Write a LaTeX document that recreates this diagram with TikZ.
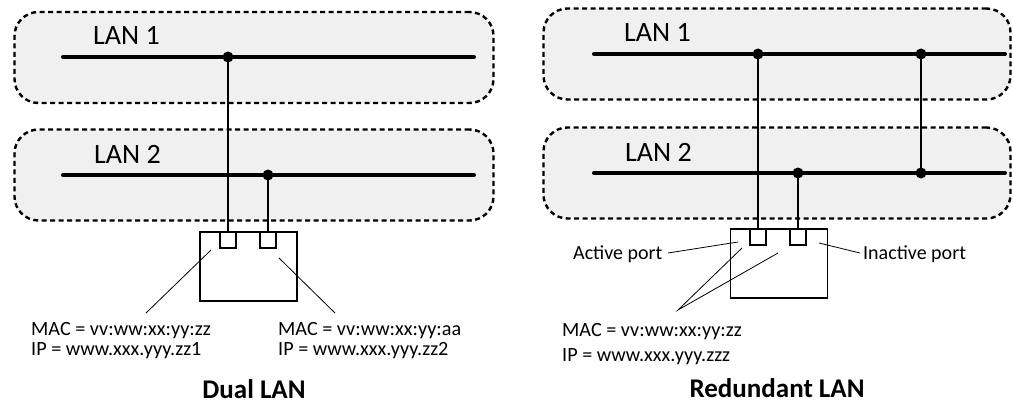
\documentclass[tikz,border=0pt]{standalone}
\usepackage{fontspec}
\setmainfont{Carlito}
\usetikzlibrary{positioning}

\begin{document}
\begin{tikzpicture}[x=1pt,y=-1pt,
	lan/.style={draw,fill=black!6,dash pattern=on 5pt off 3.5pt,line width=2.4pt,rounded corners=24pt,minimum height=91pt},
	bus/.style={line width=4pt,line cap=round},
	tap/.style={circle,fill,inner sep=0pt,minimum size=11pt},
	drop/.style={line width=2.4pt},
	dev/.style={draw,line width=1.5pt,minimum width=97pt,minimum height=69pt,inner sep=0pt},
	port/.style={draw,line width=1.3pt,minimum size=16pt,inner sep=0pt,anchor=north},
	lead/.style={line width=0.8pt},
	lbl/.style={font=\fontsize{28}{28}\selectfont,inner sep=0pt,anchor=base west},
	addr/.style={font=\fontsize{20.2}{20}\selectfont,inner sep=0pt,anchor=base west},
	note/.style={font=\fontsize{20}{20}\selectfont,inner sep=0pt,anchor=base west},
	title/.style={font=\bfseries\fontsize{27}{27}\selectfont,inner sep=0pt,anchor=base}]

	\useasboundingbox (0,0) rectangle (1013,404);

	% Dual LAN
	\node[lan,minimum width=479pt] (c1) at (254,57.5) {};
	\node[lan,minimum width=479pt] (c2) at (254,175) {};
	\coordinate (b1) at (63,57);   \coordinate (e1) at (474,57);
	\coordinate (b2) at (63,175);  \coordinate (e2) at (474,175);
	\draw[bus] (b1) -- (e1);
	\draw[bus] (b2) -- (e2);
	\node[lbl] (l1) at (93,45) {LAN 1};
	\node[lbl] (l2) at (94,163) {LAN 2};
	\node[tap] (t1) at (228,57) {};
	\node[tap] (t2) at (268,175) {};

	\node[dev] (d1) at (248.5,266.5) {};
	\node[port] (p1) at (d1.north -| t1) {};
	\node[port] (p2) at (d1.north -| t2) {};
	\draw[drop] (t1.center) -- (p1.north);
	\draw[drop] (t2.center) -- (p2.north);

	\coordinate (k1) at (211,250);  \coordinate (k2) at (146,313);
	\coordinate (k3) at (279,258);  \coordinate (k4) at (335,313);
	\draw[lead] (k1) -- (k2);
	\draw[lead] (k3) -- (k4);
	\node[addr] (m1) at (31,335) {MAC = vv:ww:xx:yy:zz};
	\node[addr] (i1) at (31,355) {IP = www.xxx.yyy.zz1};
	\node[addr] (m2) at (278,335) {MAC = vv:ww:xx:yy:aa};
	\node[addr] (i2) at (278,355) {IP = www.xxx.yyy.zz2};
	\node[title] (n1) at (254,398) {Dual LAN};

	% Redundant LAN
	\node[lan,minimum width=467pt] (c3) at (777,54) {};
	\node[lan,minimum width=467pt] (c4) at (777,173) {};
	\coordinate (b3) at (594,54);   \coordinate (e3) at (1005,54);
	\coordinate (b4) at (594,173);  \coordinate (e4) at (1005,173);
	\draw[bus] (b3) -- (e3);
	\draw[bus] (b4) -- (e4);
	\node[lbl] (l3) at (624,42) {LAN 1};
	\node[lbl] (l4) at (625,161) {LAN 2};
	\node[tap] (t3) at (758,54) {};
	\node[tap] (t4) at (798,173) {};
	\node[tap] (t5) at (921,54) {};
	\node[tap] (t6) at (921,173) {};
	\draw[drop] (t5.center) -- (t6.center);

	\node[dev] (d2) at (779,263.5) {};
	\node[port] (p3) at (d2.north -| t3) {};
	\node[port] (p4) at (d2.north -| t4) {};
	\draw[drop] (t3.center) -- (p3.north);
	\draw[drop] (t4.center) -- (p4.north);

	\node[note] (ap) at (573,259) {Active port};
	\node[note] (ip) at (863,259) {Inactive port};
	\coordinate (a1) at (668,253);  \coordinate (a2) at (738,242);
	\coordinate (a3) at (819,243);  \coordinate (a4) at (860,253);
	\draw[lead] (a1) -- (a2);
	\draw[lead] (a3) -- (a4);
	\coordinate (x0) at (678,310);
	\coordinate (x1) at (742,248);  \coordinate (x2) at (778,253);
	\draw[lead] (x1) -- (x0) -- (x2);
	\node[addr] (m3) at (562,336) {MAC = vv:ww:xx:yy:zz};
	\node[addr] (i3) at (562,361) {IP = www.xxx.yyy.zzz};
	\node[title] (n2) at (777,397) {Redundant LAN};
\end{tikzpicture}
\end{document}
